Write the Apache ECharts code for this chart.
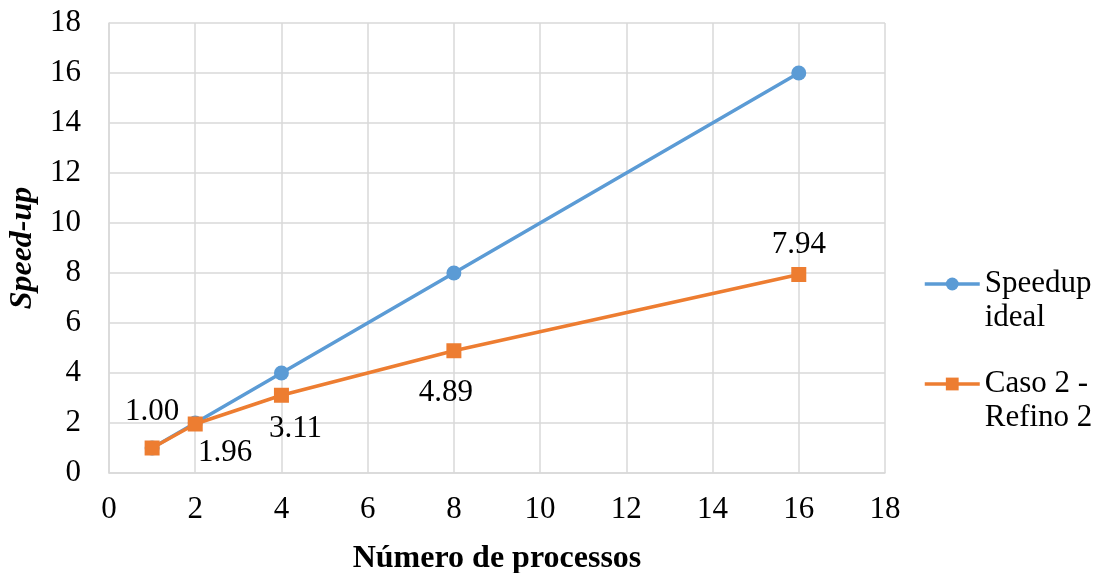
<!DOCTYPE html>
<html>
<head>
<meta charset="utf-8">
<script src="https://cdn.jsdelivr.net/npm/echarts@6/dist/echarts.min.js"></script>
<style>
html,body{margin:0;padding:0;background:#fff;}
#chart{width:1104px;height:573px;}
</style>
</head>
<body>
<div id="chart"></div>
<script>
// ---- data ----
const processes = [1, 2, 4, 8, 16];
const speedupIdeal = [1, 2, 4, 8, 16];
const caso2Refino2 = [1.00, 1.96, 3.11, 4.89, 7.94];
const seriesNames = ['Speedup\nideal', 'Caso 2 -\nRefino 2'];
const xAxisTitle = 'Número de processos';
const yAxisTitle = 'Speed-up';

// ---- label layout (not data) ----
const labelOffsets = [[0, -36], [30, 29], [14, 34], [-8, 42], [0, -30]];

const FONT = '"Liberation Serif", "Times New Roman", serif';
const FS = 31;

const chart = echarts.init(document.getElementById('chart'));

const caso2Data = caso2Refino2.map((v, i) => ({
  value: [processes[i], v],
  label: { show: true, position: 'inside', offset: labelOffsets[i] }
}));

chart.setOption({
  animation: false,
  backgroundColor: '#fff',
  textStyle: { fontFamily: FONT },
  grid: { left: 109, right: 219, top: 23, bottom: 100, containLabel: false, outerBoundsMode: 'none' },
  legend: {
    orient: 'vertical',
    left: 918,
    top: 228,
    itemWidth: 55,
    itemHeight: 16,
    itemGap: -2,
    data: seriesNames,
    formatter: n => '\n' + n,
    lineStyle: { width: 3.5 },
    textStyle: {
      fontFamily: FONT, fontSize: FS, color: '#000', lineHeight: 34
    }
  },
  xAxis: {
    type: 'value', min: 0, max: 18, interval: 2,
    name: xAxisTitle, nameLocation: 'middle', nameGap: 70,
    nameTextStyle: { fontFamily: FONT, fontSize: 32, fontWeight: 'bold', color: '#000' },
    axisLine: { show: true, lineStyle: { color: '#d9d9d9', width: 1.5 } },
    axisTick: { show: false },
    axisLabel: { fontFamily: FONT, fontSize: FS, color: '#000', margin: 21 },
    splitLine: { show: true, lineStyle: { color: '#d9d9d9', width: 1.5 } }
  },
  yAxis: {
    type: 'value', min: 0, max: 18, interval: 2,
    name: yAxisTitle, nameLocation: 'middle', nameGap: 60, nameRotate: 90,
    nameTextStyle: { fontFamily: FONT, fontSize: 32, fontWeight: 'bold', fontStyle: 'italic', color: '#000' },
    axisLine: { show: true, lineStyle: { color: '#d9d9d9', width: 1.5 } },
    axisTick: { show: false },
    axisLabel: { fontFamily: FONT, fontSize: FS, color: '#000', margin: 28 },
    splitLine: { show: true, lineStyle: { color: '#d9d9d9', width: 1.5 } }
  },
  series: [
    {
      name: seriesNames[0], type: 'line',
      data: speedupIdeal.map((v, i) => [processes[i], v]),
      symbol: 'circle', symbolSize: 15,
      itemStyle: { color: '#5b9bd5' },
      lineStyle: { color: '#5b9bd5', width: 3.5 },
      z: 2
    },
    {
      name: seriesNames[1], type: 'line',
      data: caso2Data,
      symbol: 'rect', symbolSize: 15,
      itemStyle: { color: '#ed7d31' },
      lineStyle: { color: '#ed7d31', width: 3.5 },
      label: { fontFamily: FONT, fontSize: FS, color: '#000', formatter: p => p.value[1].toFixed(2) },
      z: 3
    }
  ]
});
</script>
</body>
</html>
